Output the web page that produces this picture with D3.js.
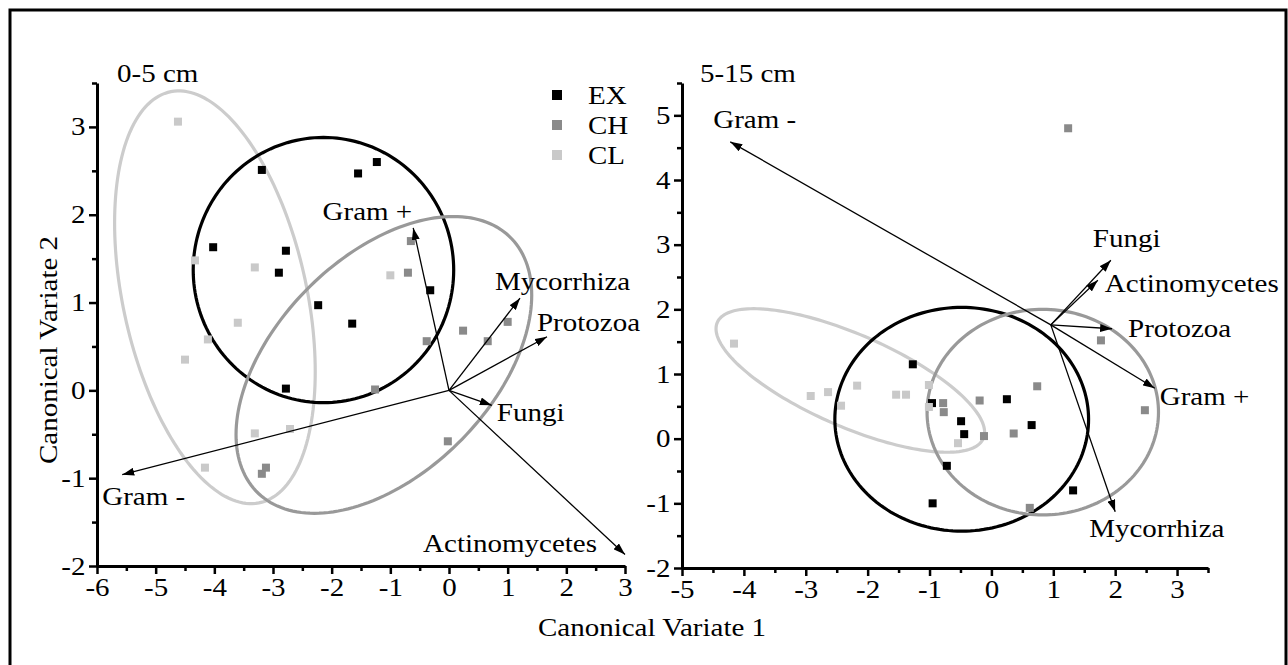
<!DOCTYPE html>
<html>
<head>
<meta charset="utf-8">
<script src="https://cdn.jsdelivr.net/npm/d3@7"></script>
<style>
  body { margin: 0; background: #fff; }
  text { font-family: "Liberation Serif", "Times New Roman", serif; font-size: 25px; fill: #000; }
</style>
</head>
<body>
<svg id="chart" width="1288" height="665"></svg>
<script>
// ---- data ----
var groups = ["EX", "CH", "CL"];

// 0-5 cm canonical scores
var topEX = [[-3.19, 2.51], [-1.55, 2.47], [-1.23, 2.60], [-4.02, 1.63], [-2.78, 1.59],
             [-2.90, 1.34], [-2.23, 0.97], [-1.65, 0.76], [-0.32, 1.14], [-2.78, 0.02]];
var topCH = [[-0.65, 1.70], [-0.70, 1.34], [-0.38, 0.56], [0.24, 0.68], [0.66, 0.56],
             [1.00, 0.78], [-1.26, 0.01], [-0.02, -0.58], [-3.19, -0.95], [-3.12, -0.88]];
var topCL = [[-4.62, 3.06], [-4.33, 1.48], [-3.31, 1.40], [-3.60, 0.77], [-4.11, 0.58],
             [-4.50, 0.35], [-3.31, -0.49], [-2.71, -0.44], [-4.16, -0.88], [-1.00, 1.31]];

// 5-15 cm canonical scores
var subEX = [[-1.27, 1.15], [-0.96, 0.55], [-0.49, 0.27], [-0.44, 0.07], [-0.72, -0.42],
             [-0.95, -1.00], [0.25, 0.61], [0.65, 0.21], [1.32, -0.80]];
var subCH = [[1.24, 4.80], [1.77, 1.52], [2.48, 0.44], [0.74, 0.81], [-0.19, 0.59],
             [-0.12, 0.04], [0.36, 0.08], [0.62, -1.07], [-0.78, 0.55], [-0.77, 0.41]];
var subCL = [[-4.16, 1.47], [-2.92, 0.66], [-2.64, 0.72], [-2.43, 0.51], [-2.17, 0.82],
             [-1.54, 0.68], [-1.38, 0.68], [-1.01, 0.83], [-1.01, 0.49], [-0.54, -0.07]];

// group ellipses: centre, half extents, correlation
var topEllipses = [
  { group: "CL", cx: -3.99, cy: 1.06, sx: 1.71, sy: 2.35, r: -0.36 },
  { group: "EX", cx: -2.14, cy: 1.37, sx: 2.22, sy: 1.51, r: 0 },
  { group: "CH", cx: -1.11, cy: 0.29, sx: 2.52, sy: 1.69, r: 0.47 }
];
var subEllipses = [
  { group: "CL", cx: -2.28, cy: 0.90, sx: 2.17, sy: 1.11, r: -0.72 },
  { group: "EX", cx: -0.48, cy: 0.30, sx: 2.05, sy: 1.73, r: 0 },
  { group: "CH", cx: 0.83, cy: 0.41, sx: 1.87, sy: 1.59, r: 0 }
];

// structure vectors
var topOrigin = [0, 0];
var topVectors = [
  { name: "Gram +", x: -0.61, y: 1.85 },
  { name: "Mycorrhiza", x: 1.21, y: 1.05 },
  { name: "Protozoa", x: 1.67, y: 0.61 },
  { name: "Fungi", x: 0.73, y: -0.17 },
  { name: "Actinomycetes", x: 3.00, y: -1.87 },
  { name: "Gram -", x: -5.57, y: -0.96 }
];
var subOrigin = [0.96, 1.76];
var subVectors = [
  { name: "Gram -", x: -4.22, y: 4.59 },
  { name: "Fungi", x: 1.93, y: 2.76 },
  { name: "Actinomycetes", x: 1.72, y: 2.45 },
  { name: "Protozoa", x: 1.95, y: 1.70 },
  { name: "Gram +", x: 2.64, y: 0.78 },
  { name: "Mycorrhiza", x: 2.00, y: -1.13 }
];

// ticks
var topXTicks = [-6, -5, -4, -3, -2, -1, 0, 1, 2, 3];
var topYTicks = [-2, -1, 0, 1, 2, 3];
var subXTicks = [-5, -4, -3, -2, -1, 0, 1, 2, 3];
var subYTicks = [-2, -1, 0, 1, 2, 3, 4, 5];

// ---- layout ----
var SX = 1.16; // text is a little wide in the original
var colors = { EX: "#000", CH: "#8a8a8a", CL: "#c9c9c9" };
var ringColors = { EX: "#000", CH: "#999", CL: "#cccccc" };

// label offsets from arrow tips [dx, dy, anchor]
var topLabelPos = {
  "Gram +": [-1, -8, "end"], "Mycorrhiza": [-25, -8, "start"], "Protozoa": [-10, -6, "start"],
  "Fungi": [5, 16, "start"], "Actinomycetes": [-28, -3, "end"], "Gram -": [-20, 30, "start"]
};
var subLabelPos = {
  "Gram -": [-17, -14, "start"], "Fungi": [-18, -13, "start"], "Actinomycetes": [7, 12, "start"],
  "Protozoa": [16, 8, "start"], "Gram +": [5, 17, "start"], "Mycorrhiza": [-26, 25, "start"]
};

var svg = d3.select("#chart");

svg.append("rect")
    .attr("x", 10).attr("y", 10)
    .attr("width", 1276).attr("height", 670)
    .attr("fill", "none").attr("stroke", "#000").attr("stroke-width", 3);

svg.append("defs").append("marker")
    .attr("id", "head")
    .attr("markerUnits", "userSpaceOnUse")
    .attr("viewBox", "0 0 12 8")
    .attr("refX", 12).attr("refY", 4)
    .attr("markerWidth", 12).attr("markerHeight", 8)
    .attr("orient", "auto")
  .append("path")
    .attr("d", "M0,0L12,4L0,8Z")
    .attr("fill", "#000");

function txt(g, x, y, s, anchor) {
  return g.append("text")
      .attr("transform", "translate(" + x + "," + y + ") scale(" + SX + ",1)")
      .attr("text-anchor", anchor || "start")
      .text(s);
}

function halves(ticks, extra) {
  var out = [];
  ticks.forEach(function (t) { out.push(t + 0.5); });
  return out.filter(function (t) { return t <= extra; });
}

function drawPanel(p) {
  var x = d3.scaleLinear().domain(p.xDomain).range(p.xRange);
  var y = d3.scaleLinear().domain(p.yDomain).range(p.yRange);
  var g = svg.append("g");

  // ellipses
  var line = d3.line()
      .x(function (d) { return x(d[0]); })
      .y(function (d) { return y(d[1]); })
      .curve(d3.curveLinearClosed);
  p.ellipses.forEach(function (e) {
    var k = Math.sqrt(1 - e.r * e.r);
    var pts = d3.range(0, 2 * Math.PI, Math.PI / 90).map(function (t) {
      return [e.cx + e.sx * Math.cos(t), e.cy + e.sy * (e.r * Math.cos(t) + k * Math.sin(t))];
    });
    g.append("path")
        .attr("d", line(pts))
        .attr("fill", "none")
        .attr("stroke", ringColors[e.group])
        .attr("stroke-width", 3.2);
  });

  // points
  groups.forEach(function (grp) {
    g.selectAll(null)
        .data(p.points[grp])
        .enter()
        .append("rect")
          .attr("x", function (d) { return x(d[0]) - 4; })
          .attr("y", function (d) { return y(d[1]) - 4; })
          .attr("width", 8).attr("height", 8)
          .attr("fill", colors[grp]);
  });

  // vectors
  g.selectAll(null)
      .data(p.vectors)
      .enter()
      .append("line")
        .attr("x1", x(p.origin[0])).attr("y1", y(p.origin[1]))
        .attr("x2", function (d) { return x(d.x); })
        .attr("y2", function (d) { return y(d.y); })
        .attr("stroke", "#000").attr("stroke-width", 1.3)
        .attr("marker-end", "url(#head)");
  p.vectors.forEach(function (d) {
    var o = p.labelPos[d.name];
    txt(g, x(d.x) + o[0], y(d.y) + o[1], d.name, o[2]);
  });

  // axes
  var xMinor = p.xTicks.map(function (t) { return t + 0.5; })
      .filter(function (t) { return t <= p.xDomain[1]; });
  var yMinor = p.yTicks.map(function (t) { return t + 0.5; })
      .filter(function (t) { return t <= p.yDomain[1]; });

  var xAx = g.append("g")
      .attr("transform", "translate(0," + p.yRange[0] + ")")
      .call(d3.axisBottom(x).tickValues(p.xTicks).tickSize(8).tickSizeOuter(0).tickPadding(4)
        .tickFormat(function (d) { return String(d); }));
  g.append("g")
      .attr("transform", "translate(0," + p.yRange[0] + ")")
      .call(d3.axisBottom(x).tickValues(xMinor).tickSize(5).tickSizeOuter(0).tickFormat(""))
      .select(".domain").remove();

  var yAx = g.append("g")
      .attr("transform", "translate(" + p.xRange[0] + ",0)")
      .call(d3.axisLeft(y).tickValues(p.yTicks).tickSize(8).tickSizeOuter(0).tickPadding(2)
        .tickFormat(function (d) { return String(d); }));
  g.append("g")
      .attr("transform", "translate(" + p.xRange[0] + ",0)")
      .call(d3.axisLeft(y).tickValues(yMinor).tickSize(5).tickSizeOuter(0).tickFormat(""))
      .select(".domain").remove();

  g.selectAll(".domain").attr("stroke-width", 3);
  g.selectAll(".tick line").attr("stroke-width", 2.5);
  [xAx, yAx].forEach(function (a) {
    a.selectAll("text")
        .attr("font-size", null)
        .attr("font-family", null)
        .attr("transform", "scale(" + SX + ",1)");
  });
  xAx.selectAll("text").attr("dy", "0.71em");

  txt(g, p.titleX, 82, p.title, "start");
  return { x: x, y: y, g: g };
}

var top = drawPanel({
  title: "0-5 cm", titleX: 117,
  xDomain: [-6, 3], xRange: [97, 625],
  yDomain: [-2, 3.5], yRange: [566, 83],
  xTicks: topXTicks, yTicks: topYTicks,
  points: { EX: topEX, CH: topCH, CL: topCL },
  ellipses: topEllipses, origin: topOrigin, vectors: topVectors, labelPos: topLabelPos
});

drawPanel({
  title: "5-15 cm", titleX: 700,
  xDomain: [-5, 3.5], xRange: [682, 1208],
  yDomain: [-2, 5.5], yRange: [568, 83],
  xTicks: subXTicks, yTicks: subYTicks,
  points: { EX: subEX, CH: subCH, CL: subCL },
  ellipses: subEllipses, origin: subOrigin, vectors: subVectors, labelPos: subLabelPos
});

// legend
var legend = svg.append("g");
groups.forEach(function (grp, i) {
  legend.append("rect")
      .attr("x", 552).attr("y", 90 + i * 30)
      .attr("width", 10).attr("height", 10)
      .attr("fill", colors[grp]);
  txt(legend, 588, 104 + i * 30, grp, "start");
});

// axis titles
txt(svg, 652, 636, "Canonical Variate 1", "middle");
svg.append("text")
    .attr("transform", "translate(57,350) rotate(-90) scale(" + SX + ",1)")
    .attr("text-anchor", "middle")
    .text("Canonical Variate 2");
</script>
</body>
</html>
